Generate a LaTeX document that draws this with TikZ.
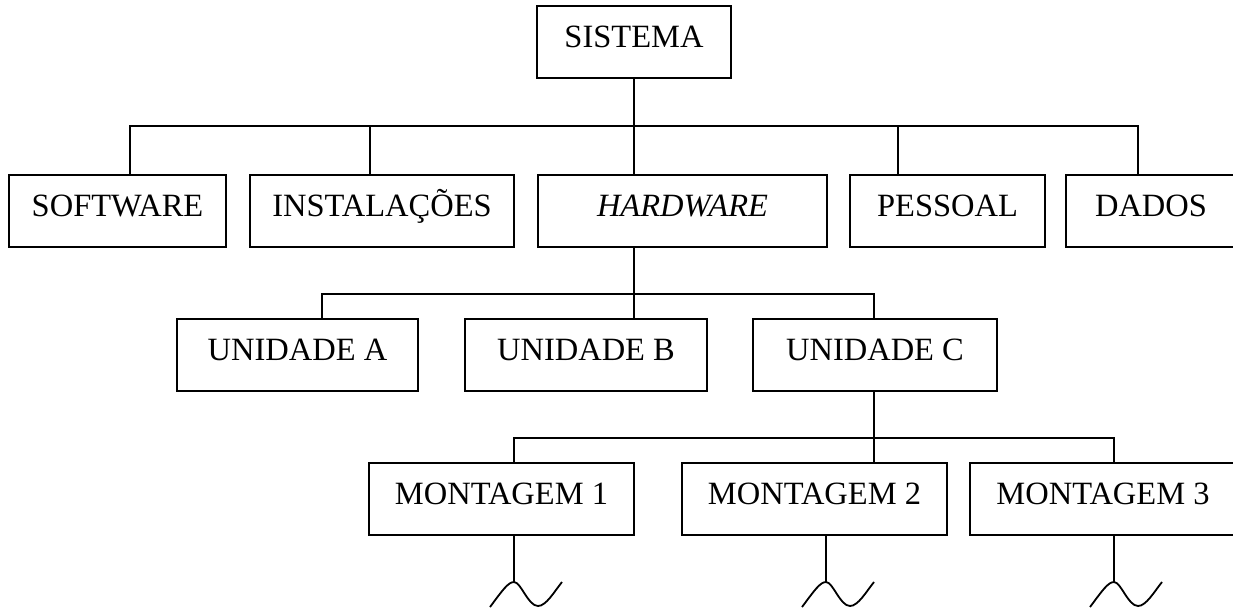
\documentclass[tikz,border=0pt]{standalone}
\usepackage{fontspec}
\setmainfont{Liberation Serif}
\usetikzlibrary{calc}

% draws the broken-line tilde hanging below a branch end
\newcommand{\squig}[1]{%
  \draw ([shift={(-24,25)}]#1) .. controls ([shift={(-12,9)}]#1) and ([shift={(-6,0)}]#1) .. (#1)
        .. controls ([shift={(7,0)}]#1) and ([shift={(14,24)}]#1) .. ([shift={(24,24)}]#1)
        .. controls ([shift={(32,24)}]#1) and ([shift={(40,10)}]#1) .. ([shift={(48,0)}]#1);}

\begin{document}
\begin{tikzpicture}[x=1pt,y=-1pt,line width=1.8pt,
  box/.style={draw,inner sep=0pt,anchor=north,text height=42pt,text depth=30pt,
              font=\fontsize{32.5}{38}\selectfont}]
\clip (0,0) rectangle (1233,608);
\fill[white] (0,0) rectangle (1233,608);

% level 0
\node[box,minimum width=194pt] (sis) at (634,5) {SISTEMA};

% level 1
\node[box,minimum width=217pt] (soft) at (117.5,174) {SOFTWARE};
\node[box,minimum width=264pt] (inst) at (382,174) {INSTALAÇÕES};
\node[box,minimum width=289pt] (hw)   at (682.5,174) {\itshape HARDWARE};
\node[box,minimum width=195pt] (pes)  at (947.5,174) {PESSOAL};
\node[box,minimum width=170pt] (dad)  at (1151,174) {DADOS};

% level 2
\node[box,minimum width=241pt] (ua) at (297.5,318) {UNIDADE A};
\node[box,minimum width=242pt] (ub) at (586,318) {UNIDADE B};
\node[box,minimum width=244pt] (uc) at (875,318) {UNIDADE C};

% level 3
\node[box,minimum width=265pt] (m1) at (501.5,462) {MONTAGEM 1};
\node[box,minimum width=265pt] (m2) at (814.5,462) {MONTAGEM 2};
\node[box,minimum width=266pt] (m3) at (1103,462) {MONTAGEM 3};

% branch points
\coordinate (c1) at (130,126);
\coordinate (c2) at (370,126);
\coordinate (c3) at (634,126);
\coordinate (c4) at (898,126);
\coordinate (c5) at (1138,126);
\coordinate (d1) at (322,294);
\coordinate (d3) at (874,294);
\coordinate (e1) at (514,438);
\coordinate (e3) at (1114,438);
\coordinate (t1) at (514,582);
\coordinate (t2) at (826,582);
\coordinate (t3) at (1114,582);

% SISTEMA -> level 1
\draw (soft.north -| c1) -- (c1) -- (c5) -- (dad.north -| c5);
\draw (inst.north -| c2) -- (c2);
\draw (sis.south) -- (hw.north -| c3);
\draw (pes.north -| c4) -- (c4);

% HARDWARE -> level 2
\draw (ua.north -| d1) -- (d1) -- (d3) -- (uc.north -| d3);
\draw (hw.south -| c3) -- (ub.north -| c3);

% UNIDADE C -> level 3
\draw (m1.north -| e1) -- (e1) -- (e3) -- (m3.north -| e3);
\draw (uc.south -| d3) -- (m2.north -| d3);

% open branches below level 3
\draw (m1.south -| t1) -- (t1);
\draw (m2.south -| t2) -- (t2);
\draw (m3.south -| t3) -- (t3);
\squig{t1}
\squig{t2}
\squig{t3}
\end{tikzpicture}
\end{document}
